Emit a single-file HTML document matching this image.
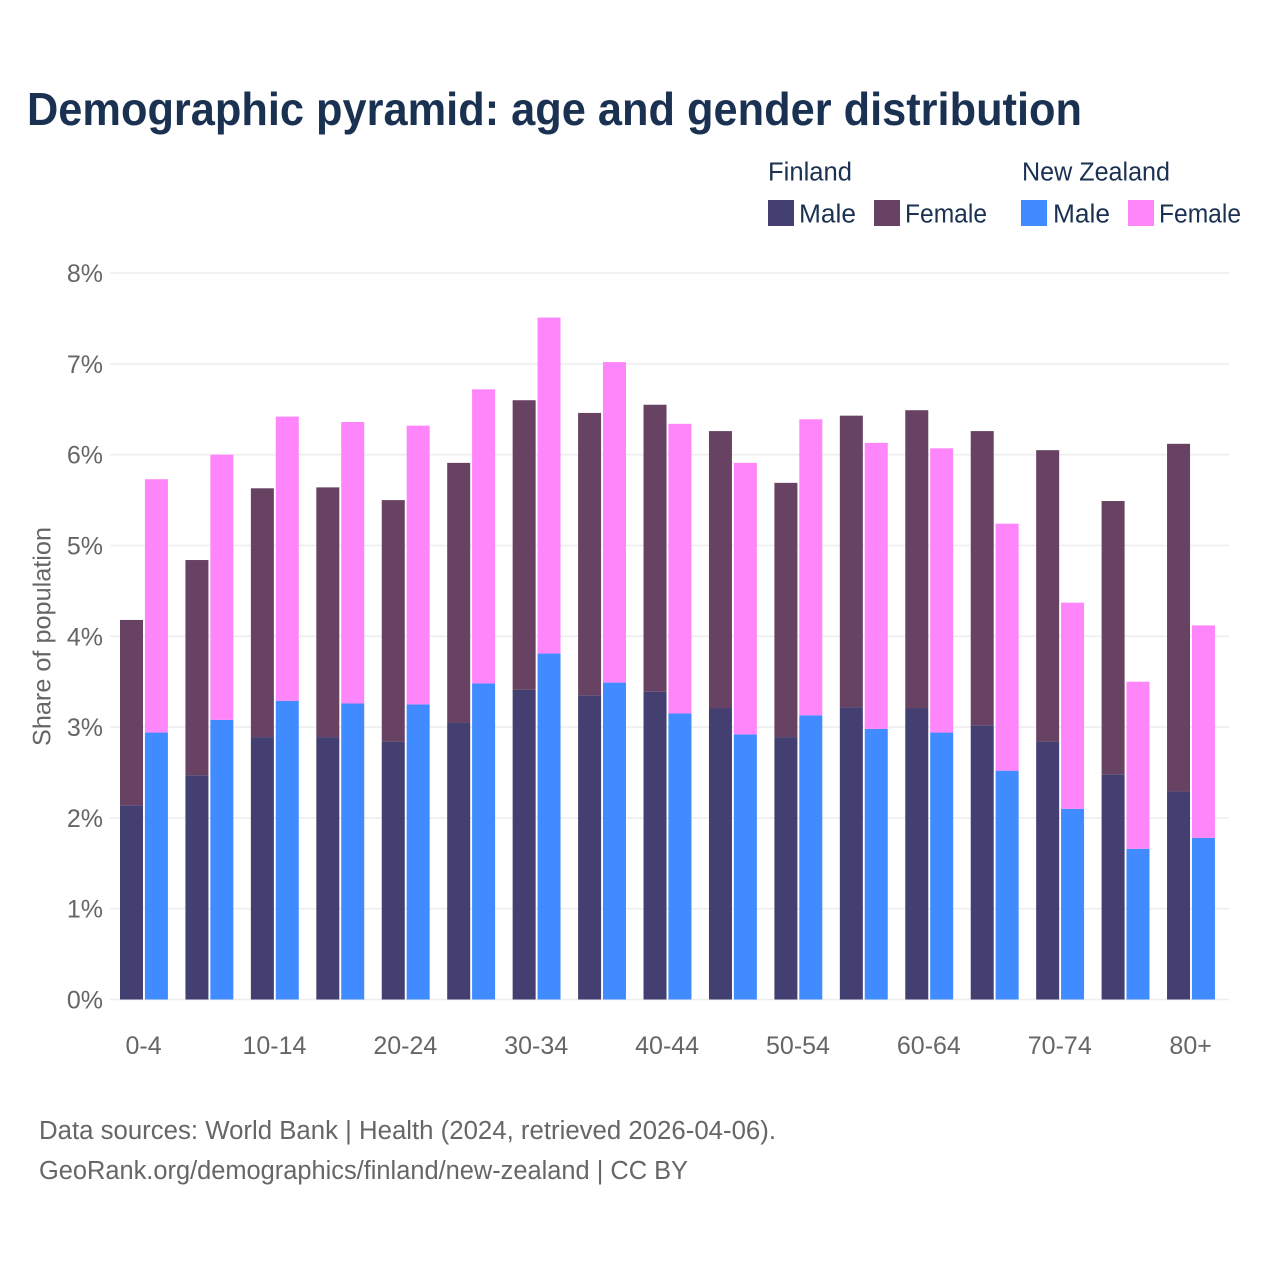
<!DOCTYPE html>
<html lang="en">
<head>
<meta charset="utf-8">
<title>Demographic pyramid</title>
<style>
html,body{margin:0;padding:0;background:#fff;width:1280px;height:1280px;overflow:hidden}
svg{display:block}
text{font-family:"Liberation Sans",sans-serif}
.tick{font-size:25px;fill:#666}
.leg{font-size:25.5px;fill:#1a3152}
.foot{font-size:25.5px;fill:#666}
</style>
</head>
<body>
<svg id="chart" width="1280" height="1280" viewBox="0 0 1280 1280" xmlns="http://www.w3.org/2000/svg">
  <rect x="0" y="0" width="1280" height="1280" fill="#ffffff"/>
  <text x="27" y="125" font-size="46" font-weight="700" fill="#1a3152" textLength="1055" lengthAdjust="spacingAndGlyphs">Demographic pyramid: age and gender distribution</text>

  <g>
    <text class="leg" x="768" y="180.5" textLength="84" lengthAdjust="spacingAndGlyphs">Finland</text>
    <rect x="768" y="200" width="26" height="26" fill="#433f70"/>
    <text class="leg" x="799" y="222.5" textLength="57" lengthAdjust="spacingAndGlyphs">Male</text>
    <rect x="874" y="200" width="26" height="26" fill="#684262"/>
    <text class="leg" x="905" y="222.5" textLength="82" lengthAdjust="spacingAndGlyphs">Female</text>
    <text class="leg" x="1022" y="180.5" textLength="148" lengthAdjust="spacingAndGlyphs">New Zealand</text>
    <rect x="1021" y="200" width="26" height="26" fill="#3f8bff"/>
    <text class="leg" x="1053" y="222.5" textLength="57" lengthAdjust="spacingAndGlyphs">Male</text>
    <rect x="1128" y="200" width="26" height="26" fill="#ff85fa"/>
    <text class="leg" x="1159" y="222.5" textLength="82" lengthAdjust="spacingAndGlyphs">Female</text>
  </g>

  <g id="grid"></g>
  <g id="bars"></g>
  <g id="yticks"></g>
  <g id="xticks"></g>

  <text transform="translate(50.5,636.5) rotate(-90)" text-anchor="middle" font-size="25" fill="#666" textLength="219" lengthAdjust="spacingAndGlyphs">Share of population</text>

  <text class="foot" x="39" y="1139" textLength="737" lengthAdjust="spacingAndGlyphs">Data sources: World Bank | Health (2024, retrieved 2026-04-06).</text>
  <text class="foot" x="39" y="1179" textLength="649" lengthAdjust="spacingAndGlyphs">GeoRank.org/demographics/finland/new-zealand | CC BY</text>
</svg>
<script>
const categories = ["0-4","5-9","10-14","15-19","20-24","25-29","30-34","35-39","40-44","45-49","50-54","55-59","60-64","65-69","70-74","75-79","80+"];
const finlandMale = [2.14,2.47,2.89,2.89,2.84,3.05,3.41,3.35,3.39,3.21,2.89,3.22,3.21,3.02,2.84,2.48,2.29];
const finlandFemale = [2.04,2.37,2.74,2.75,2.66,2.86,3.19,3.11,3.16,3.05,2.80,3.21,3.28,3.24,3.21,3.01,3.83];
const newZealandMale = [2.94,3.08,3.29,3.26,3.25,3.48,3.81,3.49,3.15,2.92,3.13,2.98,2.94,2.52,2.10,1.66,1.78];
const newZealandFemale = [2.79,2.92,3.13,3.10,3.07,3.24,3.70,3.53,3.19,2.99,3.26,3.15,3.13,2.72,2.27,1.84,2.34];
const yTicks = [0,1,2,3,4,5,6,7,8];
const xTickLabels = ["0-4","","10-14","","20-24","","30-34","","40-44","","50-54","","60-64","","70-74","","80+"];

const NS = "http://www.w3.org/2000/svg";
const plotLeft = 110, plotRight = 1229, y0 = 999.5, yPerUnit = 90.8;
const firstBar = 120, band = 65.44, barW = 23, barGap = 24.9;
const yScale = v => y0 - v * yPerUnit;
const xScale = (i, side) => firstBar + i * band + side * barGap;

function make(tag, attrs, parent) {
  const el = document.createElementNS(NS, tag);
  for (const k in attrs) el.setAttribute(k, attrs[k]);
  parent.appendChild(el);
  return el;
}

const grid = document.getElementById("grid");
const yticksG = document.getElementById("yticks");
yTicks.forEach(t => {
  const line = make("line", {x1: plotLeft, x2: plotRight, y1: yScale(t), y2: yScale(t), stroke: "#eeeeee", "stroke-width": 1.6}, grid);
  
  
  const label = make("text", {x: 103, y: yScale(t) + 9, "text-anchor": "end", "class": "tick"}, yticksG);
  
  
  label.textContent = t + "%";
});

const xticksG = document.getElementById("xticks");
xTickLabels.forEach((t, i) => {
  if (!t) return;
  const label = make("text", {x: xScale(i, 0) + 23.6, y: 1054, "text-anchor": "middle", "class": "tick"}, xticksG);
  
  
  label.textContent = t;
});

const barsG = document.getElementById("bars");
function drawBar(i, side, base, value, fill) {
  const top = yScale(base + value), bottom = yScale(base);
  const bar = make("rect", {x: xScale(i, side), y: top, width: barW, height: bottom - top, fill: fill}, barsG);
  
  
  const tip = make("title", {}, bar);
  tip.textContent = categories[i] + ": " + value + "%";
}
categories.forEach((c, i) => {
  drawBar(i, 0, 0, finlandMale[i], "#433f70");
  drawBar(i, 0, finlandMale[i], finlandFemale[i], "#684262");
  drawBar(i, 1, 0, newZealandMale[i], "#3f8bff");
  drawBar(i, 1, newZealandMale[i], newZealandFemale[i], "#ff85fa");
});
</script>
</body>
</html>
